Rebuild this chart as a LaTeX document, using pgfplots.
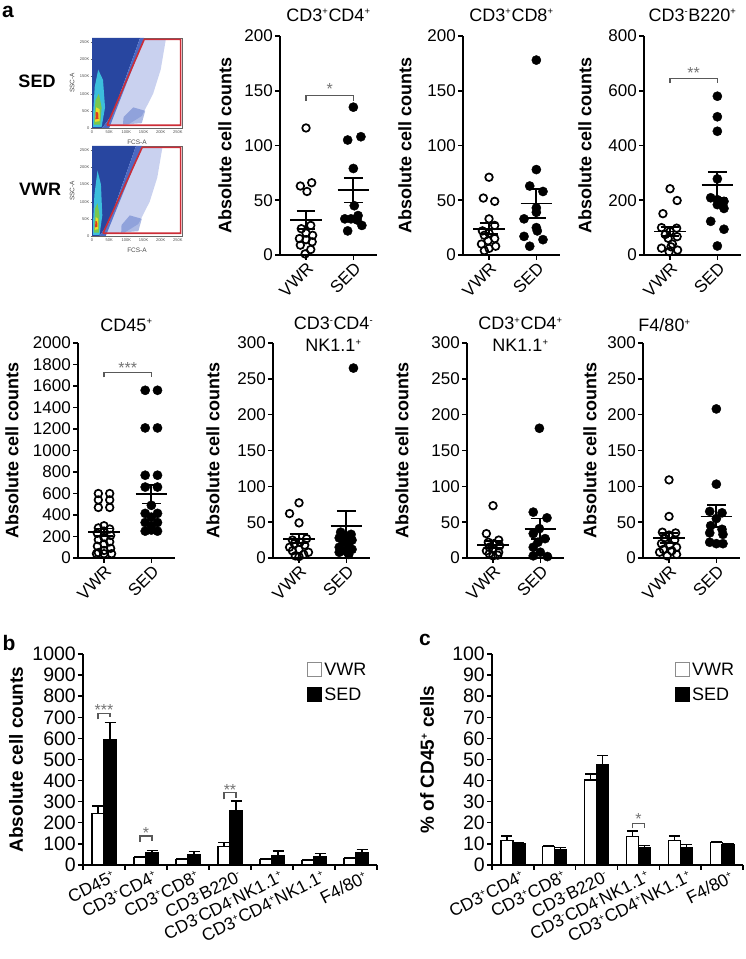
\documentclass[border=0pt]{standalone}
\usepackage{fontspec}
\setmainfont{Liberation Sans}
\usepackage{pgfplots}
\pgfplotsset{compat=1.18}
\newcommand{\up}[1]{\textsuperscript{\scalebox{0.75}{#1}}}
\newcommand{\fs}[1]{\fontsize{#1}{#1}\selectfont}
\definecolor{fdark}{RGB}{40,70,160}
\definecolor{fmid}{RGB}{75,105,195}
\definecolor{flight}{RGB}{120,140,215}
\definecolor{fcyan}{RGB}{60,190,220}
\definecolor{fgreen}{RGB}{120,200,80}
\definecolor{fyel}{RGB}{235,220,40}
\definecolor{fred}{RGB}{220,60,30}
\definecolor{gate}{RGB}{205,45,55}
\pgfplotsset{
 every axis title/.style={at={(0.5,1)}, anchor=center, font=\fontsize{18}{22}\selectfont, align=center},
 scat/.style={
  scale only axis, width=97pt,
  axis lines=left, axis line style={-, line width=1.6pt, black},
  xmin=0.45, xmax=2.5, ymin=0,
  xtick={1,2}, xticklabels={VWR,SED},
  tick align=outside, major tick length=5pt,
  tick style={line width=1.6pt, black},
  xticklabel style={rotate=45, anchor=north east, font=\fs{17}, inner sep=1pt},
  yticklabel style={font=\fs{17}, inner sep=2pt},
  /pgf/number format/assume math mode=true,
  /pgf/number format/1000 sep={},
  ylabel={Absolute cell counts},
  ylabel style={anchor=center, font=\bfseries\fs{18}},
  clip=false,
 },
 vwrpts/.style={only marks, mark=o, mark size=3.8pt, mark options={line width=1.7pt, black}},
 sedpts/.style={only marks, mark=*, mark size=4.6pt, mark options={black, fill=black}},
 sig/.style={sharp plot, black!65, line width=1.2pt, mark=none},
 btick/.style={sharp plot, black, line width=1.4pt, mark=none, forget plot},
 flow/.style={scale only axis, width=90pt, height=90pt, xmin=0, xmax=262, ymin=0, ymax=262,
  xtick={0,50,100,150,200,250}, xticklabels={0,50K,100K,150K,200K,250K},
  ytick={0,50,100,150,200,250}, yticklabels={0,50K,100K,150K,200K,250K},
  xtick pos=left, ytick pos=left, tick align=outside, major tick length=1.5pt,
  tick label style={font=\fs{4}, text=black!70, inner sep=1pt},
  axis line style={black!60, line width=0.5pt}, tick style={black!60},
  /pgf/number format/assume math mode=true,
  xlabel={FCS-A}, ylabel={SSC-A},
  xlabel style={at={(axis description cs:0.5,-0.155)}, anchor=center, font=\fs{6.5}, text=black!70},
  ylabel style={at={(axis description cs:-0.22,0.5)}, anchor=center, font=\fs{6.5}, text=black!70},
 },
 barax/.style={scale only axis, height=211pt, ymin=0,
  axis lines=left, axis line style={-, line width=1.4pt, black},
  tick align=outside, major tick length=5pt,
  tick style={line width=1.4pt, black},
  every major x tick/.append style={draw=none},
  xticklabel style={rotate=27, anchor=north east, font=\fs{17.5}, inner sep=1pt, xshift=8pt, yshift=-2pt},
  yticklabel style={font=\fs{19.5}, inner sep=2pt},
  /pgf/number format/assume math mode=true,
  /pgf/number format/1000 sep={},
  ylabel style={anchor=center, font=\bfseries\fs{19}},
  bar width=12pt, clip=false,
  legend style={draw=none, fill=none, inner sep=0pt, row sep=7pt, font=\fs{18}, cells={anchor=west}},
 },
 errs/.style={error bars/y dir=plus, error bars/y explicit,
  error bars/error bar style={line width=1.2pt, black},
  error bars/error mark options={rotate=90, mark size=5.5pt, line width=1.2pt, black}},
 vbar/.style={ybar, bar shift=0pt, fill=white, draw=black, line width=1.2pt, errs},
 sbar/.style={ybar, bar shift=0pt, fill=black, draw=black, line width=1.2pt, errs},
}
\newcommand{\mV}[3]{%
 \addplot[black,line width=1.8pt] coordinates {(0.67,#1)(1.33,#1)};
 \addplot[black,line width=1.8pt] coordinates {(1,#2)(1,#3)};
 \addplot[black,line width=1.8pt] coordinates {(0.8,#2)(1.2,#2)};
 \addplot[black,line width=1.8pt] coordinates {(0.8,#3)(1.2,#3)};}
\newcommand{\mS}[3]{%
 \addplot[black,line width=1.8pt] coordinates {(1.67,#1)(2.33,#1)};
 \addplot[black,line width=1.8pt] coordinates {(2,#2)(2,#3)};
 \addplot[black,line width=1.8pt] coordinates {(1.8,#2)(2.2,#2)};
 \addplot[black,line width=1.8pt] coordinates {(1.8,#3)(2.2,#3)};}
\begin{document}
\begin{tikzpicture}[x=1pt,y=1pt]
% panel letters and group names
\node[font=\bfseries\fs{21}] at (8pt,947pt) {a};
\node[font=\bfseries\fs{21}] at (9pt,316pt) {b};
\node[font=\bfseries\fs{21}] at (425pt,319pt) {c};
\node[font=\bfseries\fs{18}] at (37pt,878pt) {SED};
\node[font=\bfseries\fs{18}] at (40pt,770pt) {VWR};

% ---------- flow plots ----------
\begin{axis}[flow, at={(92pt,831pt)}, anchor=south west]
\addplot[fill=fdark, draw=none] coordinates {(0,0)(30,0)(60,40)(140,262)(0,262)(0,0)};
\addplot[fill=fmid, draw=none] coordinates {(30,0)(50,0)(152,262)(140,262)(60,40)(30,0)};
\addplot[fill=flight, draw=none, fill opacity=0.4] coordinates {(45,8)(152,258)(215,258)(200,170)(178,100)(145,35)(105,10)(45,8)};
\addplot[fill=fmid, draw=none, fill opacity=0.45] coordinates {(90,10)(145,14)(155,50)(120,60)(92,32)(90,10)};
\addplot[fill=fcyan, draw=none] coordinates {(3,3)(28,3)(38,60)(32,140)(18,170)(8,120)(3,40)(3,3)};
\addplot[fill=fgreen, draw=none] coordinates {(6,10)(24,10)(28,60)(20,100)(10,80)(6,10)};
\addplot[fill=fyel, draw=none] coordinates {(9,18)(22,20)(22,55)(12,60)(9,18)};
\addplot[fill=fred, draw=none] coordinates {(10,25)(19,27)(18,45)(11,47)(10,25)};
\addplot[gate, line width=1.6pt, sharp plot] coordinates {(44,8)(152,258)(258,258)(258,8)(44,8)};
\end{axis}
\begin{axis}[flow, at={(92pt,723pt)}, anchor=south west]
\addplot[fill=fdark, draw=none] coordinates {(0,0)(22,0)(50,40)(128,262)(0,262)(0,0)};
\addplot[fill=fmid, draw=none] coordinates {(22,0)(40,0)(146,262)(128,262)(50,40)(22,0)};
\addplot[fill=flight, draw=none, fill opacity=0.4] coordinates {(34,8)(146,258)(205,258)(190,170)(168,100)(135,35)(95,10)(34,8)};
\addplot[fill=fmid, draw=none, fill opacity=0.45] coordinates {(85,10)(135,14)(145,50)(110,60)(86,32)(85,10)};
\addplot[fill=fcyan, draw=none] coordinates {(3,3)(22,3)(30,60)(26,150)(16,190)(7,120)(3,40)(3,3)};
\addplot[fill=fgreen, draw=none] coordinates {(6,10)(20,10)(22,60)(16,95)(9,80)(6,10)};
\addplot[fill=fyel, draw=none] coordinates {(8,18)(18,20)(18,50)(11,55)(8,18)};
\addplot[fill=fred, draw=none] coordinates {(9,25)(16,27)(15,42)(10,44)(9,25)};
\addplot[gate, line width=1.6pt, sharp plot] coordinates {(32,8)(146,258)(258,258)(258,8)(32,8)};
\end{axis}

% ---------- row 1 ----------
\begin{axis}[scat, height=219pt, at={(280pt,704pt)}, anchor=south west, ymax=200, ytick={0,50,...,200},
  title={CD3\up{+}CD4\up{+}}, title style={yshift=21pt},
  ylabel style={at={(axis description cs:-0.567,0.5)}}]
\addplot[vwrpts] table {
1.00 116
1.12 66
0.88 63
1.02 58
1.10 27
0.90 24
1.00 20
1.14 18
0.86 15
1.00 14
1.13 12
0.88 9
1.10 5
0.98 1
};
\addplot[sedpts] table {
2.00 135
2.16 108
1.88 105
2.00 79
2.02 45
2.10 36
1.82 33
1.95 33
2.08 32
2.18 27
1.88 22
};
\mV{32}{24}{40}
\mS{59}{48}{70}
\addplot[sig] coordinates {(1,141)(1,146)(2,146)(2,141)};
\node[text=black!55, font=\fs{16}] at (axis cs:1.5,152) {*};
\end{axis}

\begin{axis}[scat, height=219pt, at={(463pt,704pt)}, anchor=south west, ymax=200, ytick={0,50,...,200},
  title={CD3\up{+}CD8\up{+}}, title style={yshift=21pt},
  ylabel style={at={(axis description cs:-0.598,0.5)}}]
\addplot[vwrpts] table {
1.00 71
0.88 52
1.12 49
1.00 33
1.12 27
0.86 22
1.00 20
0.90 18
1.12 15
0.98 13
0.84 10
1.14 8
1.00 6
0.90 4
};
\addplot[sedpts] table {
2.00 178
2.00 78
1.86 63
2.14 58
2.00 43
2.00 39
1.74 33
2.00 25
2.02 22
1.74 17
2.14 14
1.86 8
};
\mV{24}{19}{29}
\mS{47}{34}{60}
\end{axis}

\begin{axis}[scat, height=219pt, at={(644pt,704pt)}, anchor=south west, ymax=800, ytick={0,200,...,800},
  title={CD3\up{-}B220\up{+}}, title style={yshift=21pt},
  ylabel style={at={(axis description cs:-0.608,0.5)}}]
\addplot[vwrpts] table {
1.00 242
1.15 199
0.85 151
0.82 100
1.14 98
1.00 86
0.90 75
1.15 67
0.96 61
1.05 40
1.02 30
0.82 25
1.16 18
0.98 12
};
\addplot[sedpts] table {
2.00 580
2.00 505
2.00 452
2.00 278
1.86 209
2.00 202
2.14 196
2.00 184
2.14 170
1.86 123
2.14 94
2.00 33
};
\mV{86}{70}{102}
\mS{255}{210}{302}
\addplot[sig] coordinates {(1,628)(1,646)(2,646)(2,628)};
\node[text=black!55, font=\fs{16}] at (axis cs:1.5,666) {**};
\end{axis}

% ---------- row 2 ----------
\begin{axis}[scat, height=215pt, at={(78pt,401pt)}, anchor=south west, ymax=2000, ytick={0,200,...,2000},
  title={CD45\up{+}}, title style={yshift=18pt},
  ylabel style={at={(axis description cs:-0.68,0.5)}}]
\addplot[vwrpts] table {
0.88 600
1.12 600
0.88 540
1.12 540
0.88 470
1.12 470
1.00 300
0.88 280
1.12 270
1.00 250
0.86 230
1.14 210
1.00 190
0.88 170
1.12 150
1.00 130
0.86 110
1.14 90
1.00 70
0.88 50
0.84 40
1.00 40
1.16 40
};
\addplot[sedpts] table {
1.87 1560
2.13 1560
1.87 1210
2.13 1210
1.87 770
2.13 770
1.87 660
2.13 660
2.00 490
1.87 415
2.13 415
2.00 380
1.87 330
2.13 330
2.00 300
1.87 250
2.13 250
2.00 260
};
\mV{240}{205}{275}
\mS{592}{507}{677}
\addplot[sig] coordinates {(1,1680)(1,1727)(2,1727)(2,1680)};
\node[text=black!55, font=\fs{16}] at (axis cs:1.5,1772) {***};
\end{axis}

\begin{axis}[scat, height=215pt, at={(273pt,401pt)}, anchor=south west, ymax=300, ytick={0,50,...,300},
  title={CD3\up{-}CD4\up{-}\\NK1.1\up{+}}, title style={yshift=9pt, xshift=12pt},
  ylabel style={at={(axis description cs:-0.619,0.5)}}]
\addplot[vwrpts] table {
1.00 77
0.80 62
1.00 49
1.16 27
0.86 25
1.02 22
0.90 20
1.12 18
0.80 15
1.00 12
0.86 10
1.20 8
1.10 5
0.92 3
1.00 2
};
\addplot[sedpts] table {
2.15 265
1.88 36
2.10 33
2.00 30
1.85 28
2.12 25
1.95 22
2.05 18
1.85 15
2.12 12
1.97 10
1.85 8
2.05 5
};
\mV{27}{21}{33}
\mS{45}{25}{66}
\end{axis}

\begin{axis}[scat, height=215pt, at={(467pt,401pt)}, anchor=south west, ymax=300, ytick={0,50,...,300},
  title={CD3\up{+}CD4\up{+}\\NK1.1\up{+}}, title style={yshift=9pt, xshift=5pt},
  ylabel style={at={(axis description cs:-0.67,0.5)}}]
\addplot[vwrpts] table {
1.00 73
0.86 34
1.12 25
0.90 22
1.02 20
1.14 17
0.92 15
1.00 13
0.86 10
1.12 8
0.92 6
1.10 4
1.00 3
};
\addplot[sedpts] table {
1.98 181
1.85 64
2.14 56
1.98 41
1.85 34
2.10 27
1.95 22
1.85 15
2.00 8
1.85 3
2.15 2
};
\mV{18.5}{13.5}{23.5}
\mS{40}{26}{55}
\end{axis}

\begin{axis}[scat, height=215pt, at={(643pt,401pt)}, anchor=south west, ymax=300, ytick={0,50,...,300},
  title={F4/80\up{+}}, title style={yshift=18pt, xshift=-27pt},
  ylabel style={at={(axis description cs:-0.546,0.5)}}]
\addplot[vwrpts] table {
1.00 109
1.00 58
0.86 36
1.14 35
1.00 32
0.90 28
1.12 25
0.84 20
1.02 18
1.16 15
0.88 12
1.06 10
0.80 8
1.16 5
0.96 3
};
\addplot[sedpts] table {
2.00 208
2.00 103
1.86 65
2.12 63
2.00 55
1.88 45
2.12 40
1.86 35
2.14 33
1.86 22
2.00 20
2.14 20
};
\mV{28}{21}{35}
\mS{58}{43}{74}
\end{axis}

% ---------- panel b ----------
\begin{axis}[barax, width=294pt, at={(83pt,94pt)}, anchor=south west,
  xmin=0, xmax=7, ymax=1000, ytick={0,100,...,1000},
  xtick={0.5,1.5,2.5,3.5,4.5,5.5,6.5},
  xticklabels={CD45\up{+},CD3\up{+}CD4\up{+},CD3\up{+}CD8\up{+},CD3\up{-}B220\up{-},CD3\up{-}CD4\up{-}NK1.1\up{+},CD3\up{+}CD4\up{+}NK1.1\up{+},F4/80\up{+}},
  ylabel={Absolute cell counts},
  ylabel style={at={(axis description cs:-0.228,0.5)}},
  legend style={at={(axis cs:5.33,968)}, anchor=north west}]
\pgfplotsinvokeforeach{0,1,2,3,4,5,6,7}{\addplot[btick] coordinates {(#1,0)(#1,-24)};}
\addplot[forget plot, vbar] coordinates {(0.357,245) +- (0,35) (1.357,35) +- (0,5) (2.357,25) +- (0,4) (3.357,87) +- (0,18) (4.357,27) +- (0,5) (5.357,20) +- (0,4) (6.357,30) +- (0,5)};
\addplot[forget plot, sbar] coordinates {(0.643,596) +- (0,80) (1.643,58) +- (0,12) (2.643,47) +- (0,17) (3.643,256) +- (0,47) (4.643,45) +- (0,21) (5.643,42) +- (0,14) (6.643,58) +- (0,15)};
\addplot[forget plot, sig] coordinates {(0.357,690)(0.357,718)(0.643,718)(0.643,700)};
\addplot[forget plot, sig] coordinates {(1.357,110)(1.357,137)(1.643,137)(1.643,115)};
\addplot[forget plot, sig] coordinates {(3.357,311)(3.357,343)(3.643,343)(3.643,318)};
\node[text=black!55, font=\fs{16}] at (axis cs:0.5,736) {***};
\node[text=black!55, font=\fs{16}] at (axis cs:1.5,152) {*};
\node[text=black!55, font=\fs{16}] at (axis cs:3.5,357) {**};
\addlegendimage{legend image code/.code={\draw[black!45, line width=1.2pt, fill=white] (0pt,-7pt) rectangle (14pt,7pt);}}
\addlegendentry{VWR}
\addlegendimage{legend image code/.code={\draw[black, line width=1.2pt, fill=black] (0pt,-7pt) rectangle (14pt,7pt);}}
\addlegendentry{SED}
\end{axis}

% ---------- panel c ----------
\begin{axis}[barax, width=251pt, at={(492pt,94pt)}, anchor=south west,
  xmin=0, xmax=6, ymax=100, ytick={0,10,...,100},
  xtick={0.5,1.5,2.5,3.5,4.5,5.5},
  xticklabels={CD3\up{+}CD4\up{+},CD3\up{+}CD8\up{+},CD3\up{-}B220\up{-},CD3\up{-}CD4\up{-}NK1.1\up{+},CD3\up{+}CD4\up{+}NK1.1\up{+},F4/80\up{+}},
  ylabel={\% of CD45\up{+} cells},
  ylabel style={at={(axis description cs:-0.259,0.5)}},
  legend style={at={(axis cs:4.37,96.8)}, anchor=north west}]
\pgfplotsinvokeforeach{0,1,2,3,4,5,6}{\addplot[btick] coordinates {(#1,0)(#1,-2.4)};}
\addplot[forget plot, vbar] coordinates {(0.357,11.8) +- (0,1.9) (1.357,8.7) +- (0,0.5) (2.357,40.3) +- (0,2.8) (3.357,13.4) +- (0,2.7) (4.357,11.8) +- (0,1.9) (5.357,10.6) +- (0,0.5)};
\addplot[forget plot, sbar] coordinates {(0.643,10.3) +- (0,0.4) (1.643,7.4) +- (0,1.0) (2.643,47.7) +- (0,4.1) (3.643,8.2) +- (0,1.0) (4.643,8.2) +- (0,1.6) (5.643,9.8) +- (0,0.5)};
\addplot[forget plot, sig] coordinates {(3.357,17.4)(3.357,19.7)(3.643,19.7)(3.643,17.4)};
\node[text=black!55, font=\fs{16}] at (axis cs:3.5,21.6) {*};
\addlegendimage{legend image code/.code={\draw[black!45, line width=1.2pt, fill=white] (0pt,-7pt) rectangle (14pt,7pt);}}
\addlegendentry{VWR}
\addlegendimage{legend image code/.code={\draw[black, line width=1.2pt, fill=black] (0pt,-7pt) rectangle (14pt,7pt);}}
\addlegendentry{SED}
\end{axis}

\pgfresetboundingbox
\path[use as bounding box] (0pt,0pt) rectangle (746pt,959pt);
\end{tikzpicture}
\end{document}
